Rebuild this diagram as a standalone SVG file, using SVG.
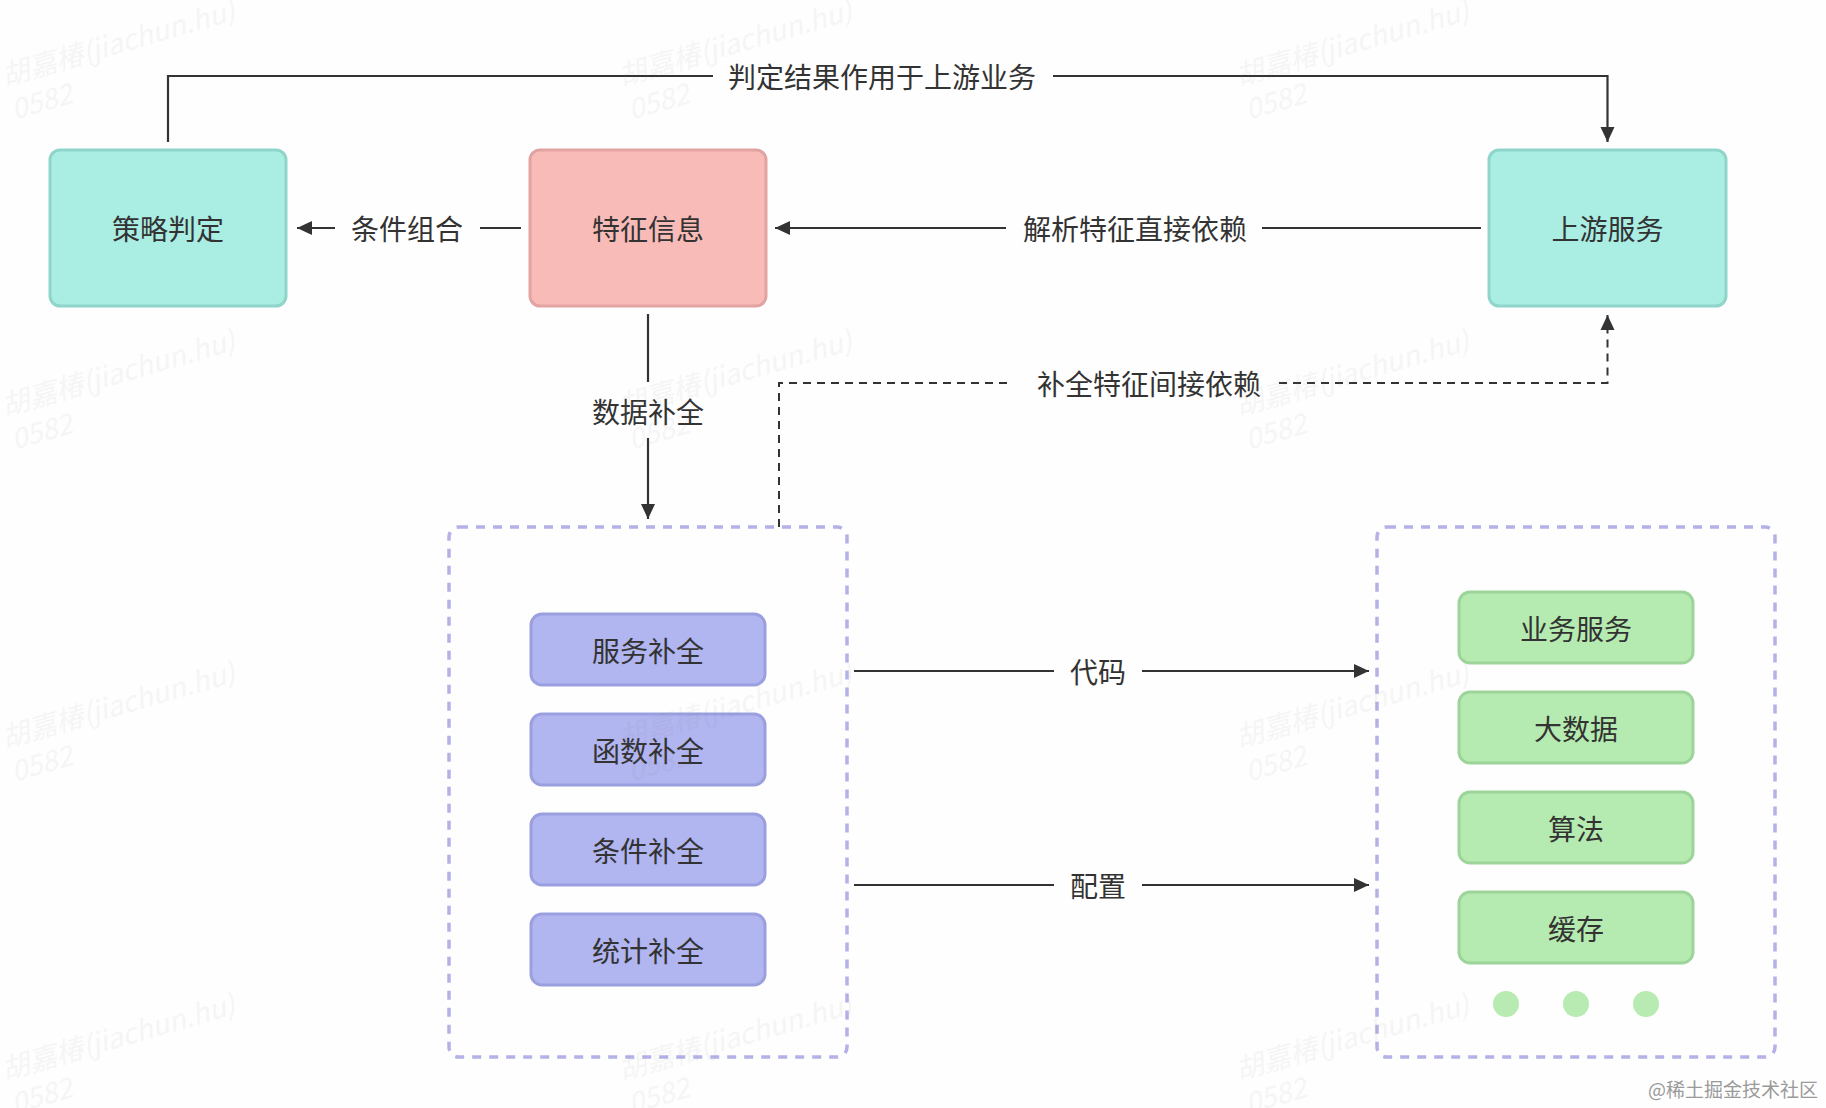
<svg xmlns="http://www.w3.org/2000/svg" width="1826" height="1108" viewBox="0 0 1826 1108">
<style>
.t{font-family:"Noto Sans CJK SC","Noto Sans",sans-serif;font-size:28px;fill:#333;text-anchor:middle;dominant-baseline:central}
.line{fill:none;stroke:#333;stroke-width:2.2}
.dash{fill:none;stroke:#333;stroke-width:2;stroke-dasharray:8 6}
.bg{fill:#fefefe}
.teal{fill:#a9ede3;stroke:#8fd5c9;stroke-width:3}
.pink{fill:#f8bbb8;stroke:#e2a3a1;stroke-width:3}
.purple{fill:#b1b5f0;stroke:#9a9fdf;stroke-width:3}
.green{fill:#b5ebb0;stroke:#9dd49a;stroke-width:3}
.container{fill:none;stroke:#b4b1e7;stroke-width:3.5;stroke-dasharray:9 8}
.dot{fill:#b8ebb2}
.wm{font-family:"Noto Sans CJK SC","Liberation Sans",sans-serif;font-size:28px;font-style:italic;fill:#888;opacity:0.07}
.credit{font-family:"Noto Sans CJK SC",sans-serif;font-size:19px;fill:#9a9a9a;text-anchor:end}
</style>
<defs>
<marker id="arr" viewBox="0 0 15 15" refX="15" refY="7.5" markerWidth="15" markerHeight="15" orient="auto" markerUnits="userSpaceOnUse">
<path d="M0,0.5 L15,7.5 L0,14.5 z" fill="#333"/>
</marker>
<g id="wmk">
<text class="wm" x="0" y="0">胡嘉椿(jiachun.hu)</text>
<text class="wm" x="0" y="35">0582</text>
</g>
</defs>
<rect x="0" y="0" width="1826" height="1108" fill="#fefefe"/>

<g id="connectors">
<path class="line" d="M168,142 V76 H1607.5 V142" marker-end="url(#arr)"/>
<rect class="bg" x="713" y="58" width="340" height="36"/>
<text class="t" x="882" y="76">判定结果作用于上游业务</text>

<path class="line" d="M521,228 H297" marker-end="url(#arr)"/>
<rect class="bg" x="335" y="210" width="145" height="36"/>
<text class="t" x="407" y="228">条件组合</text>

<path class="line" d="M1481,228 H775" marker-end="url(#arr)"/>
<rect class="bg" x="1006" y="210" width="256" height="36"/>
<text class="t" x="1135" y="228">解析特征直接依赖</text>

<path class="line" d="M648,314 V519" marker-end="url(#arr)"/>
<rect class="bg" x="590" y="382" width="116" height="56"/>
<text class="t" x="648" y="411">数据补全</text>

<path class="dash" d="M779,527 V383 H1607.5 V315" marker-end="url(#arr)"/>
<rect class="bg" x="1013" y="365" width="264" height="36"/>
<text class="t" x="1149" y="383">补全特征间接依赖</text>

<path class="line" d="M854,671 H1369" marker-end="url(#arr)"/>
<rect class="bg" x="1054" y="653" width="88" height="36"/>
<text class="t" x="1098" y="671">代码</text>

<path class="line" d="M854,885 H1369" marker-end="url(#arr)"/>
<rect class="bg" x="1054" y="867" width="88" height="36"/>
<text class="t" x="1098" y="885">配置</text>
</g>

<g id="node-celue">
<rect class="teal" x="50" y="150" width="236" height="156" rx="10"/>
<text class="t" x="168" y="228">策略判定</text>
</g>
<g id="node-tezheng">
<rect class="pink" x="530" y="150" width="236" height="156" rx="10"/>
<text class="t" x="648" y="228">特征信息</text>
</g>
<g id="node-shangyou">
<rect class="teal" x="1489" y="150" width="237" height="156" rx="10"/>
<text class="t" x="1607.5" y="228">上游服务</text>
</g>

<g id="group-buquan">
<rect class="container" x="449" y="527" width="398" height="530" rx="10"/>
</g>
<g id="node-fuwubuquan">
<rect class="purple" x="531" y="614" width="234" height="71" rx="11"/>
<text class="t" x="648" y="649.5">服务补全</text>
</g>
<g id="node-hanshubuquan">
<rect class="purple" x="531" y="714" width="234" height="71" rx="11"/>
<text class="t" x="648" y="749.5">函数补全</text>
</g>
<g id="node-tiaojianbuquan">
<rect class="purple" x="531" y="814" width="234" height="71" rx="11"/>
<text class="t" x="648" y="849.5">条件补全</text>
</g>
<g id="node-tongjibuquan">
<rect class="purple" x="531" y="914" width="234" height="71" rx="11"/>
<text class="t" x="648" y="949.5">统计补全</text>
</g>

<g id="group-sources">
<rect class="container" x="1377" y="527" width="398" height="530" rx="10"/>
</g>
<g id="node-yewufuwu">
<rect class="green" x="1459" y="592" width="234" height="71" rx="11"/>
<text class="t" x="1576" y="627.5">业务服务</text>
</g>
<g id="node-dashuju">
<rect class="green" x="1459" y="692" width="234" height="71" rx="11"/>
<text class="t" x="1576" y="727.5">大数据</text>
</g>
<g id="node-suanfa">
<rect class="green" x="1459" y="792" width="234" height="71" rx="11"/>
<text class="t" x="1576" y="827.5">算法</text>
</g>
<g id="node-huancun">
<rect class="green" x="1459" y="892" width="234" height="71" rx="11"/>
<text class="t" x="1576" y="927.5">缓存</text>
</g>
<g id="node-more">
<circle class="dot" cx="1506" cy="1004" r="13"/>
<circle class="dot" cx="1576" cy="1004" r="13"/>
<circle class="dot" cx="1646" cy="1004" r="13"/>
</g>

<g id="watermarks">
<use href="#wmk" transform="translate(5,86) rotate(-16)"/>
<use href="#wmk" transform="translate(622,86) rotate(-16)"/>
<use href="#wmk" transform="translate(1239,86) rotate(-16)"/>
<use href="#wmk" transform="translate(5,416) rotate(-16)"/>
<use href="#wmk" transform="translate(622,416) rotate(-16)"/>
<use href="#wmk" transform="translate(1239,416) rotate(-16)"/>
<use href="#wmk" transform="translate(5,748) rotate(-16)"/>
<use href="#wmk" transform="translate(622,748) rotate(-16)"/>
<use href="#wmk" transform="translate(1239,748) rotate(-16)"/>
<use href="#wmk" transform="translate(5,1080) rotate(-16)"/>
<use href="#wmk" transform="translate(622,1080) rotate(-16)"/>
<use href="#wmk" transform="translate(1239,1080) rotate(-16)"/>
</g>

<text class="credit" x="1818" y="1097">@稀土掘金技术社区</text>
</svg>
